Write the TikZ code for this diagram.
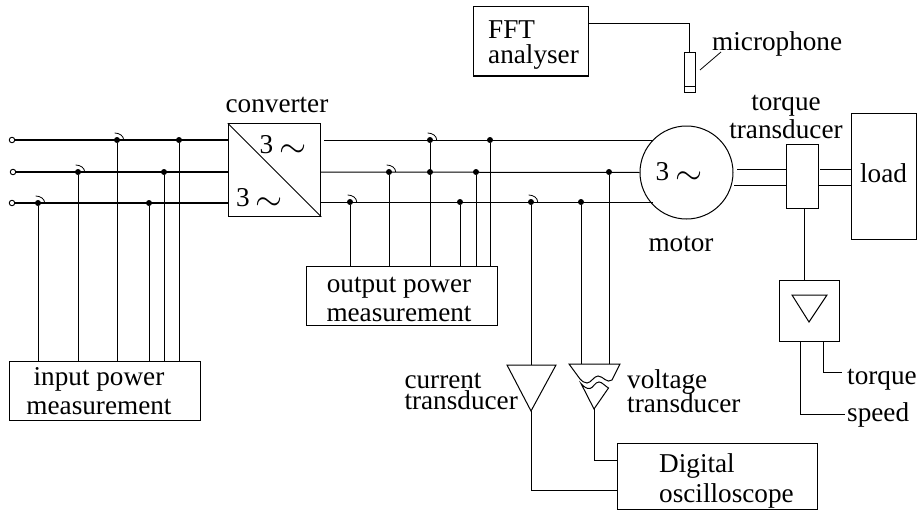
\documentclass[tikz,border=0pt]{standalone}
\usepackage{fontspec}
\usepackage{graphicx}
\setmainfont{Liberation Serif}
\newcommand{\lbl}{\fontsize{27.2}{26}\selectfont}
\newcommand{\threephase}{3\hspace{6pt}\raisebox{-4pt}{\scalebox{1.4}{$\sim$}}}
\begin{document}
\begin{tikzpicture}[
 x=1pt,y=-1pt,
 line/.style={line width=1pt},
 phase/.style={line width=1.25pt},
 terminal/.style={circle,draw,line width=.9pt,fill=white,inner sep=0pt,minimum size=5.5pt},
 joint/.style={circle,fill,inner sep=0pt,minimum size=6pt},
 box/.style={draw,line width=1pt,inner sep=0pt},
 label/.style={inner sep=0pt,align=center},
 hook/.style={line width=.8pt},
 every node/.style={font=\lbl}]
 \useasboundingbox (0,0) rectangle (918,511);
 % Mains side: three phases into the converter.
 \node[box,minimum size=92.5pt] (conv) at (274.5,170) {};
 \draw[line] (conv.north west)--(conv.south east);
 \node[label] (convlbl) at (277,105) {converter};
 \node[label] (convup) at (283,146) {\threephase};
 \node[label] (convdn) at (259.5,199) {\threephase};
 \node[terminal] (ta) at (12,140) {};
 \node[terminal] (tb) at (13,172) {};
 \node[terminal] (tc) at (12,203) {};
 \draw[phase] (ta)--(ta-|conv.west);
 \draw[phase] (tb)--(tb-|conv.west);
 \draw[phase] (tc)--(tc-|conv.west);
 \node[box,minimum width=191pt,minimum height=59pt] (inbox) at (105,390.5) {};
 \node[label] (inlbl) at (99,391) {input power\\[3pt]measurement};
 \foreach \nm/\px/\py in {ia/117/140,ib/179/140,ic/78/172,id/164/172,ie/38/203,if/149/203}{
  \node[joint] (\nm) at (\px,\py) {};
  \draw[line] (\nm)--(\nm|-inbox.north);
 }
 \foreach \nm in {ia,ic,ie}{
  \draw[hook] (\nm)++(-2.3,-7) arc[start angle=-90,end angle=0,x radius=9,y radius=7];
 }
 % Motor side: three phases out of the converter.
 \node[draw,circle,line width=1pt,minimum size=93pt,inner sep=0pt] (motor) at (686.5,172.5) {};
 \node[label] (motorsym) at (679,173) {\threephase};
 \node[label] (motorlbl) at (681,244) {motor};
 \coordinate (oa) at (324,140); \coordinate (ob) at (321,172); \coordinate (oc) at (321,202);
 \coordinate (ma) at (653,140); \coordinate (mc) at (653,202);
 \draw[line] (oa)--(ma);
 \draw[line] (ob)--(motor.west);
 \draw[line] (oc)--(mc);
 \node[box,minimum width=191pt,minimum height=59.5pt] (outbox) at (401.8,296) {};
 \node[label] (outlbl) at (399,299.5) {output power\\[3pt]measurement};
 \foreach \nm/\px/\py in {pa/430/140,pb/490/140,pc/389/172,pd/430/172,pe/476/172,pf/350/202,pg/460/202}{
  \node[joint] (\nm) at (\px,\py) {};
 }
 \foreach \nm in {pa,pb,pc,pe,pf,pg}{
  \draw[line] (\nm)--(\nm|-outbox.north);
 }
 \foreach \nm in {pa,pc,pf}{
  \draw[hook] (\nm)++(-2.3,-7) arc[start angle=-90,end angle=0,x radius=9,y radius=7];
 }
 % Current and voltage transducers feeding the oscilloscope.
 \node[joint] (qa) at (531,202) {};
 \node[joint] (qb) at (581,202) {};
 \node[joint] (qc) at (609,172) {};
 \draw[hook] (qa)++(-2.3,-7) arc[start angle=-90,end angle=0,x radius=9,y radius=7];
 \coordinate (cur) at (531,365); \coordinate (curtip) at (531,411);
 \coordinate (volt) at (594,364); \coordinate (volttip) at (594,409);
 \draw[line] (qa)--(cur);
 \draw[line] (qb)--(qb|-volt);
 \draw[line] (qc)--(qc|-volt);
 \draw[line] (507,365)--(556,365)--(curtip)--cycle;
 \draw[line] (569,364)--(620,364)--(612,380)..controls(607,384)and(603,376)..(598,376)
  ..controls(594,376)and(591,383)..(587,383)..controls(584,383)and(582,381)..(580,379)--cycle;
 \draw[line] (581,383.5)..controls(584,387)and(587,389)..(590,388.5)
  ..controls(593,388)and(595,382)..(599,382)..controls(602,382)and(605,386)..(608.5,388)--(volttip)--cycle;
 \node[box,minimum width=200pt,minimum height=66pt] (osc) at (717.3,476) {};
 \node[label,align=left,anchor=west] (osclbl) at (659,480.5) {Digital\\[4pt]oscilloscope};
 \draw[line] (curtip)|-(osc.west|-0,490);
 \draw[line] (volttip)|-(osc.west|-0,460);
 \node[label,align=left,anchor=east] (curlbl) at (518,391) {current\\[-5pt]transducer};
 \node[label,align=left,anchor=west] (voltlbl) at (627,391) {voltage\\[-2pt]transducer};
 % Shaft, torque transducer and load.
 \node[box,minimum width=31.5pt,minimum height=64pt] (tq) at (802.5,176) {};
 \node[box,minimum width=65pt,minimum height=126pt] (load) at (883.5,176) {};
 \node[label] (loadlbl) at (883.5,173) {load};
 \node[label] (tqlbl) at (786,106) {torque};
 \node[label] (tdlbl) at (786,129) {transducer};
 \coordinate (sa) at (737,169); \coordinate (sb) at (734,185);
 \coordinate (sc) at (820,169); \coordinate (sd) at (818,185);
 \draw[line] (sa)--(sa-|tq.west);
 \draw[line] (sb)--(sb-|tq.west);
 \draw[line] (sc)--(sc-|load.west);
 \draw[line] (sd)--(sd-|load.west);
 \node[box,minimum size=60.5pt] (amp) at (809.5,311) {};
 \draw[line] (792,295)--(827,295)--(809,322)--cycle;
 \draw[line] (tq.south-|804,0)--(amp.north-|804,0);
 \node[label,anchor=west] (torque) at (847,380) {torque};
 \node[label,anchor=west] (speed) at (847,415) {speed};
 \draw[line] (amp.south-|823,0)|-(842,372);
 \draw[line] (amp.south-|800.7,0)|-(845,414);
 % FFT analyser and microphone.
 \node[box,minimum width=115pt,minimum height=69pt] (fft) at (530.5,41.5) {};
 \node[label,align=left,anchor=west] (fftlbl) at (488,45) {FFT\\[-1pt]analyser};
 \node[box,minimum width=11pt,minimum height=39pt] (mic) at (689.5,72.5) {};
 \coordinate (mica) at (684,86); \coordinate (micb) at (695,86);
 \draw[hook] (mica)--(micb);
 \draw[line] (fft.east|-0,24)-|(mic.north);
 \node[label,anchor=west] (miclbl) at (712,44) {microphone};
 \coordinate (lead) at (700,70);
 \draw[hook] (lead)--(721,52);
\end{tikzpicture}
\end{document}
